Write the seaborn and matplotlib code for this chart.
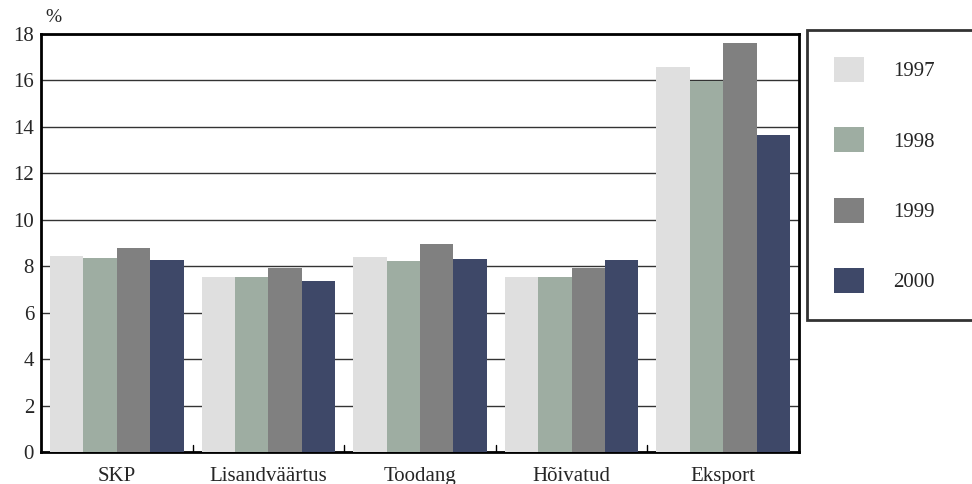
import numpy as np
import pandas as pd
import matplotlib.pyplot as plt
import seaborn as sns
from matplotlib.patches import Patch

# Data
categories = ['SKP', 'Lisandväärtus', 'Toodang', 'Hõivatud', 'Eksport']
years = ['1997', '1998', '1999', '2000']
v1997 = [8.43, 7.52, 8.38, 7.52, 16.57]
v1998 = [8.34, 7.52, 8.21, 7.52, 15.99]
v1999 = [8.77, 7.91, 8.97, 7.91, 17.60]
v2000 = [8.26, 7.35, 8.30, 8.26, 13.64]
colors = ['#dfdfdf', '#9eada2', '#808080', '#3e4868']

df = pd.DataFrame({'cat': categories * 4,
                   'year': np.repeat(years, len(categories)),
                   'value': v1997 + v1998 + v1999 + v2000})

sns.set_style('white')
plt.rcParams['font.family'] = ['Liberation Serif', 'DejaVu Serif']

fig = plt.figure(figsize=(9.72, 4.84), dpi=100)
ax = fig.add_axes([41 / 972, 1 - 452 / 484, 758 / 972, 418 / 484])

sns.barplot(data=df, x='cat', y='value', hue='year', palette=colors,
            width=0.88, saturation=1, ax=ax, legend=False, zorder=3,
            linewidth=0, edgecolor='none')

ax.set_ylim(0, 18)
ax.set_xlim(-0.5, len(categories) - 0.5)
ax.set_yticks(range(0, 19, 2))
ax.yaxis.grid(True, color='#333333', linewidth=1, zorder=0)
ax.set_axisbelow(True)
for s in ax.spines.values():
    s.set_linewidth(2)
    s.set_color('black')

ax.set_xlabel('')
ax.set_ylabel('')
ax.tick_params(axis='y', labelsize=15, length=0, pad=5)
ax.set_xticks(range(len(categories)))
ax.set_xticklabels(categories, fontsize=15)
ax.tick_params(axis='x', length=0, pad=11)
# small boundary ticks between categories
for b in np.arange(0.5, len(categories) - 0.5, 1):
    ax.plot([b, b], [0, 0.3], color='black', linewidth=1, zorder=4)

fig.text(45 / 972, 1 - 17 / 484, '%', fontsize=14, ha='left', va='center')

handles = [Patch(facecolor=c, edgecolor='none') for c in colors]
leg = fig.legend(handles, years, loc='upper left', mode='expand',
                 bbox_to_anchor=(807 / 972, 1 - 30 / 484, 190 / 972, 0),
                 fontsize=15, frameon=True, fancybox=False,
                 handlelength=1.45, handleheight=1.45, handletextpad=1.4,
                 labelspacing=2.19, borderpad=1.3, borderaxespad=0)
leg.get_frame().set_edgecolor('black')
leg.get_frame().set_linewidth(2)

fig.savefig('out.png', dpi=100)
